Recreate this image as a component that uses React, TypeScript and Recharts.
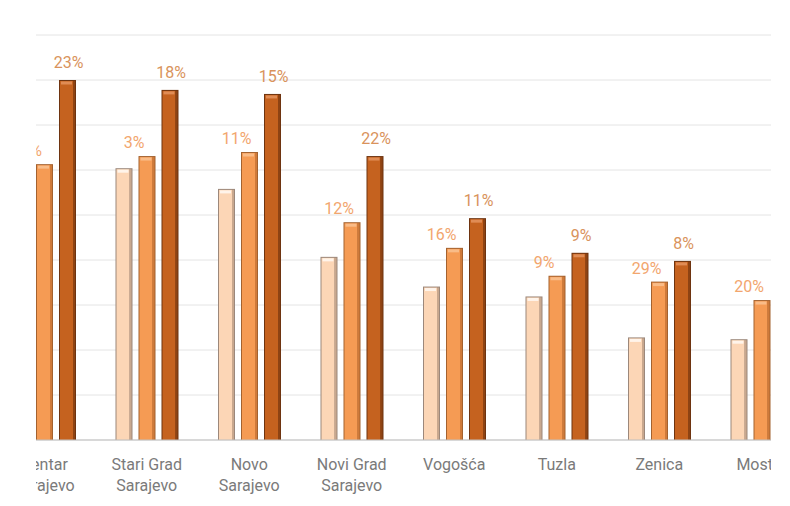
import { Bar, BarChart, CartesianGrid, LabelList, XAxis, YAxis } from "recharts";

// values (grid step = 10)
const categories = [
  "Centar Sarajevo",
  "Stari Grad Sarajevo",
  "Novo Sarajevo",
  "Novi Grad Sarajevo",
  "Vogošća",
  "Tuzla",
  "Zenica",
  "Mostar",
];
const lightValues = [52, 60.4, 55.8, 40.7, 34.1, 31.9, 22.8, 22.4];
const midValues = [61.3, 63.1, 64, 48.4, 42.7, 36.5, 35.2, 31.1];
const darkValues = [80, 77.8, 76.9, 63.1, 49.3, 41.6, 39.8, 39.3];
const midLabels = ["6%", "3%", "11%", "12%", "16%", "9%", "29%", "20%"];
const darkLabels = ["23%", "18%", "15%", "22%", "11%", "9%", "8%", "27%"];
const yTicks = [0, 10, 20, 30, 40, 50, 60, 70, 80, 90];

const data = categories.map((name, i) => ({
  name,
  light: lightValues[i],
  mid: midValues[i],
  dark: darkValues[i],
  midLabel: midLabels[i],
  darkLabel: darkLabels[i],
}));

const FONT = "Roboto, 'Noto Sans', sans-serif";

interface BarColors {
  rim: string;
  fill: string;
  side: string;
  cap: string;
}

const makeShape = (c: BarColors) => (props: any) => {
  const { x, y, width, height } = props;
  if (!(height > 0)) return <g />;
  return (
    <g>
      <rect x={x} y={y} width={width} height={height} fill={c.rim} />
      <rect x={x + 1} y={y + 1} width={width - 4} height={height - 1} fill={c.fill} />
      <rect x={x + width - 3} y={y + 1} width={2} height={height - 1} fill={c.side} />
      <rect x={x + 2} y={y + 1.5} width={width - 6} height={3} fill={c.cap} />
    </g>
  );
};

const lightShape = makeShape({ rim: "#9c887b", fill: "#fcd6b6", side: "#c9a88e", cap: "#fff4ea" });
const midShape = makeShape({ rim: "#a4622f", fill: "#f59b54", side: "#cf7a3a", cap: "#f9bc88" });
const darkShape = makeShape({ rim: "#6e3410", fill: "#c5621f", side: "#8e4313", cap: "#e08c55" });

const makeLabel = (dx: number, dy: number, color: string) => (props: any) => {
  const { x, y, width, value } = props;
  return (
    <text
      x={x + width / 2 + dx}
      y={y + dy}
      textAnchor="middle"
      fill={color}
      fontSize={16}
      fontFamily={FONT}
    >
      {value}
    </text>
  );
};

const CategoryTick = (props: any) => {
  const { x, y, payload } = props;
  const name: string = payload.value;
  const lines =
    name.endsWith(" Sarajevo") ? [name.slice(0, -9), "Sarajevo"] : [name];
  return (
    <g>
      {lines.map((line, i) => (
        <text
          key={i}
          x={x}
          y={y + 30 + i * 20.5}
          textAnchor="middle"
          fill="#7a7a7a"
          fontSize={16}
          fontFamily={FONT}
        >
          {line}
        </text>
      ))}
    </g>
  );
};

export default function App() {
  return (
    <div
      style={{
        position: "absolute",
        left: 0,
        top: 0,
        width: 790,
        height: 506,
        background: "#ffffff",
      }}
    >
      {/* the reference is a crop of a wider chart: clip to x 36..771 */}
      <div
        style={{
          position: "absolute",
          left: 36,
          top: 0,
          width: 735,
          height: 506,
          overflow: "hidden",
        }}
      >
        <div style={{ position: "absolute", left: -43.25, top: 0 }}>
          <BarChart
            width={820}
            height={506}
            data={data}
            margin={{ top: 35, right: 0, bottom: 0, left: 0 }}
            barSize={17}
            barGap={6}
          >
            <CartesianGrid vertical={false} stroke="#e4e4e4" />
            <XAxis
              dataKey="name"
              height={66}
              tickSize={0}
              tickMargin={0}
              tickLine={false}
              axisLine={{ stroke: "#bfbfbf" }}
              tick={<CategoryTick />}
              interval={0}
            />
            <YAxis hide domain={[0, 90]} ticks={yTicks} />
            <Bar dataKey="light" shape={lightShape} isAnimationActive={false} />
            <Bar dataKey="mid" shape={midShape} isAnimationActive={false}>
              <LabelList dataKey="midLabel" content={makeLabel(-13, -8, "#f2a66e")} />
            </Bar>
            <Bar dataKey="dark" shape={darkShape} isAnimationActive={false}>
              <LabelList dataKey="darkLabel" content={makeLabel(1, -12, "#d9935c")} />
            </Bar>
          </BarChart>
        </div>
      </div>
    </div>
  );
}
